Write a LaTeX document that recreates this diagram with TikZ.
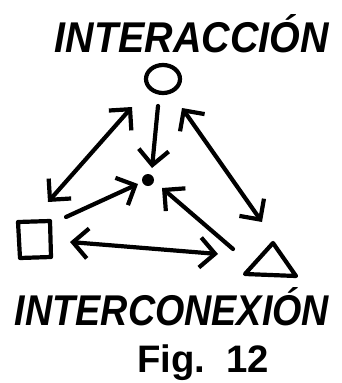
\documentclass[tikz,border=0pt]{standalone}
\usepackage{fontspec}
\usepackage{graphicx}
\setmainfont{Liberation Sans}
\usetikzlibrary{arrows.meta}
\tikzset{
  stroke/.style={line width=4.2pt, line cap=round, line join=round},
  barb/.tip={Straight Barb[length=15pt,width=30pt,line width=4.2pt]},
  link/.style={stroke, barb-barb},
  tolink/.style={stroke, -barb},
  hand/.style={inner sep=0pt, font=\bfseries\itshape}
}
\begin{document}
\begin{tikzpicture}[x=1pt,y=-1pt]
  \useasboundingbox (0,0) rectangle (341,383);
  % labels
  \node[hand] (top) at (192,34) {\resizebox{274pt}{38pt}{INTERACCIÓN}};
  \node[hand] (bottom) at (172,307) {\resizebox{314pt}{38pt}{INTERCONEXIÓN}};
  \node[inner sep=0pt, font=\bfseries] (fig) at (203,363) {\resizebox{132pt}{!}{Fig.\ \ 12}};
  % the three figures and the centre point
  \draw[stroke] (163,79) ellipse [x radius=17pt, y radius=14pt];
  \coordinate (circ) at (163,79);
  \draw[stroke] (18,222) -- (50,221) -- (51,257) -- (20,258) -- cycle;
  \coordinate (sq) at (35,240);
  \draw[stroke] (273,243) -- (296,276) -- (245,274) -- cycle;
  \coordinate (tri) at (271,265);
  \fill (148,180) circle [radius=6pt];
  \coordinate (dot) at (148,180);
  % end points of the connectors
  \coordinate (c1) at (132,107);
  \coordinate (s1) at (48,202);
  \coordinate (c2) at (158,106);
  \coordinate (d2) at (152,168);
  \coordinate (c3) at (182,108);
  \coordinate (t3) at (262,222);
  \coordinate (s4) at (66,217);
  \coordinate (d4) at (138,184);
  \coordinate (t5) at (233,249);
  \coordinate (d5) at (162,188);
  \coordinate (s6) at (70,242);
  \coordinate (t6) at (218,254);
  % connectors
  \draw[link] (s1) -- (c1);
  \draw[tolink] (c2) -- (d2);
  \draw[link] (c3) -- (t3);
  \draw[tolink] (s4) -- (d4);
  \draw[tolink] (t5) -- (d5);
  \draw[link] (s6) -- (t6);
\end{tikzpicture}
\end{document}
